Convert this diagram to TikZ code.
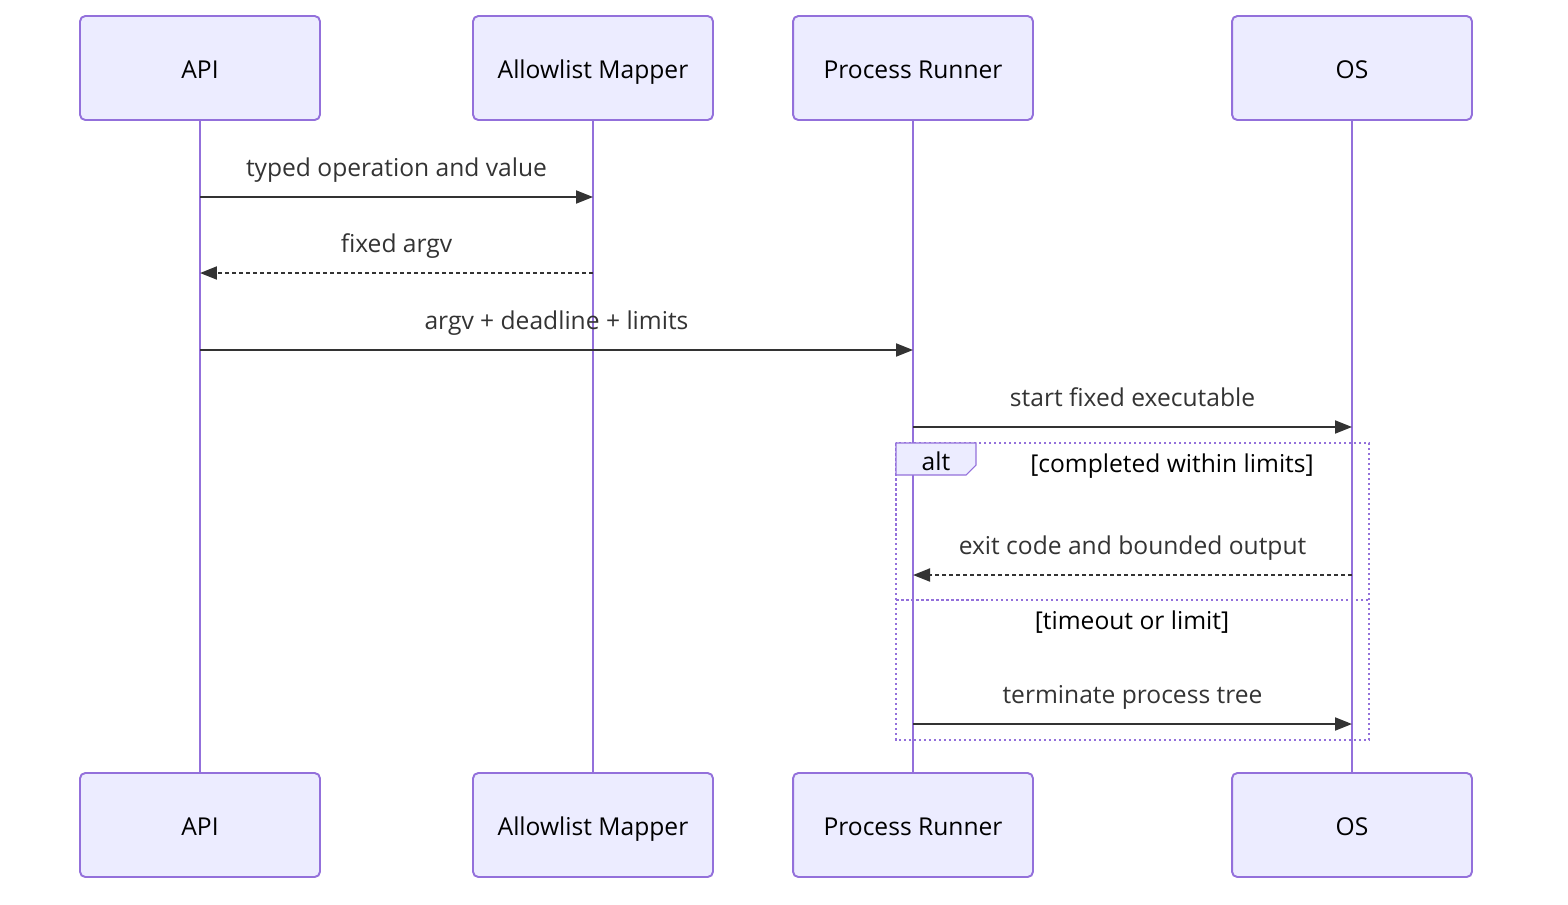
\documentclass[tikz,border=0pt]{standalone}
\usepackage{fontspec}
\setmainfont{Open Sans}
\usetikzlibrary{arrows.meta}

\definecolor{actfill}{HTML}{ECECFF}
\definecolor{actline}{HTML}{9370DB}
\definecolor{msgline}{HTML}{333333}

\tikzset{
  actor/.style={draw=actline, fill=actfill, line width=1.1pt, rounded corners=3pt,
    minimum width=4.8cm, minimum height=2.08cm, font=\fontsize{14}{16}\selectfont, text=black,
    text height=1.2em, text depth=0.05em},
  lifeline/.style={draw=actline, line width=1.3pt},
  msg/.style={draw=msgline, line width=1.1pt, -{Triangle[length=0.34cm,width=0.26cm]}},
  reply/.style={msg, dash pattern=on 0.08cm off 0.06cm},
  msglabel/.style={font=\fontsize{14}{16}\selectfont, text=msgline, yshift=0.5cm,
    text height=0.75em, text depth=0.25em},
  framelabel/.style={font=\fontsize{14}{16}\selectfont, text=black, yshift=-0.1cm,
    text height=0.75em, text depth=0.25em},
  frame/.style={draw=actline, line width=1.6pt, dash pattern=on 0.05cm off 0.05cm}
}

\begin{document}
\begin{tikzpicture}[x=0.02cm, y=-0.02cm]
        \useasboundingbox (0,0) rectangle (1568,904);

        % actors, top row
        \node[actor] (api)    at (200,68)  {API};
        \node[actor] (mapper) at (593,68)  {Allowlist Mapper};
        \node[actor] (runner) at (913,68)  {Process Runner};
        \node[actor] (os)     at (1352,68) {OS};

        % actors, bottom row
        \node[actor] (apiB)    at (200,825)  {API};
        \node[actor] (mapperB) at (593,825)  {Allowlist Mapper};
        \node[actor] (runnerB) at (913,825)  {Process Runner};
        \node[actor] (osB)     at (1352,825) {OS};

        % lifelines
        \draw[lifeline] (api) -- (apiB);
        \draw[lifeline] (mapper) -- (mapperB);
        \draw[lifeline] (runner) -- (runnerB);
        \draw[lifeline] (os) -- (osB);

        % message rows
        \coordinate (m1) at (0,197);
        \coordinate (m2) at (0,273);
        \coordinate (m3) at (0,350);
        \coordinate (m4) at (0,427);
        \coordinate (m5) at (0,575);
        \coordinate (m6) at (0,724);

        \draw[msg]   (api |- m1) -- node[msglabel] {typed operation and value} (mapper |- m1);
        \draw[reply] (mapper |- m2) -- node[msglabel] {fixed argv} (api |- m2);
        \draw[msg]   (api |- m3) -- node[msglabel] {argv + deadline + limits} (runner |- m3);
        \draw[msg]   (runner |- m4) -- node[msglabel] {start fixed executable} (os |- m4);

        % alt frame
        \draw[frame] (896,443) rectangle (1369,740);
        \draw[frame] (896,600) -- (1369,600);
        \draw[draw=actline, fill=actfill, line width=0.6pt] (896,443) -- (976,443) -- (976,465) -- (966,475) -- (896,475) -- cycle;
        \node[framelabel] (alt) at (936,461) {alt};
        \node[framelabel] (case1) at (1172,463) {[completed within limits]};
        \node[framelabel] (case2) at (1132,620) {[timeout or limit]};

        \draw[reply] (os |- m5) -- node[msglabel] {exit code and bounded output} (runner |- m5);
        \draw[msg]   (runner |- m6) -- node[msglabel] {terminate process tree} (os |- m6);
      \end{tikzpicture}
\end{document}
